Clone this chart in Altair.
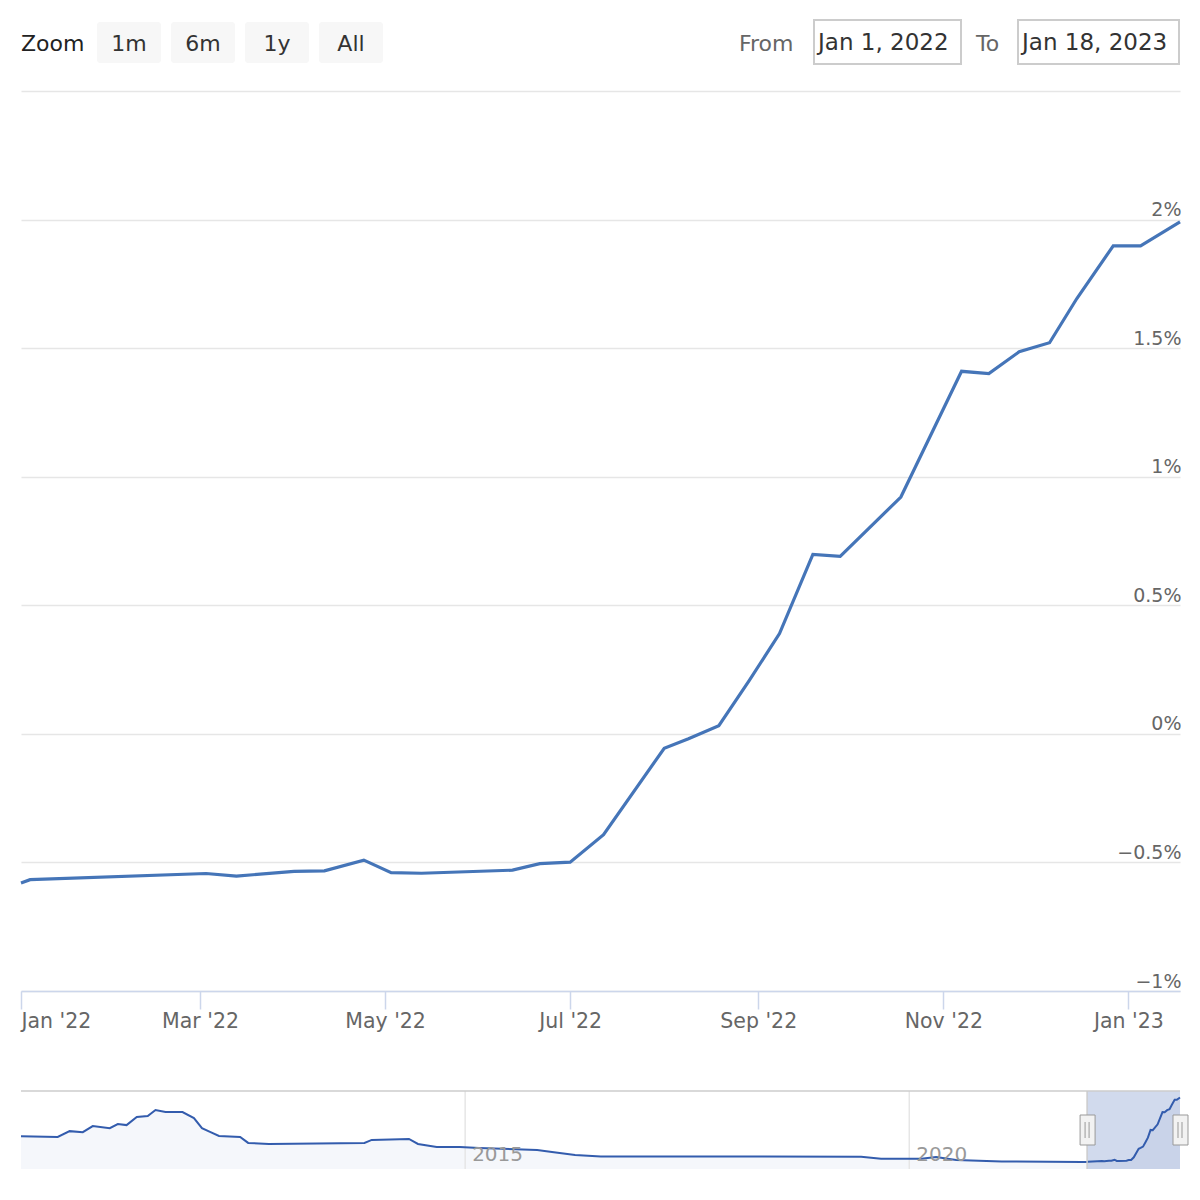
import altair as alt
import pandas as pd

FONT = "DejaVu Sans"

# ---- main (zoomed) series ----
dates = ["2022-01-01", "2022-01-04", "2022-03-03", "2022-03-13", "2022-04-01",
         "2022-04-11", "2022-04-24", "2022-05-03", "2022-05-13", "2022-06-12",
         "2022-06-21", "2022-07-01", "2022-07-12", "2022-08-01", "2022-08-09",
         "2022-08-19", "2022-08-29", "2022-09-08", "2022-09-19", "2022-09-28",
         "2022-10-18", "2022-11-07", "2022-11-16", "2022-11-26", "2022-12-06",
         "2022-12-15", "2022-12-27", "2023-01-05", "2023-01-18"]
values = [-0.580, -0.567, -0.543, -0.553, -0.535,
          -0.533, -0.491, -0.540, -0.542, -0.530,
          -0.505, -0.499, -0.392, -0.056, -0.019,
          0.032, 0.207, 0.390, 0.698, 0.690,
          0.921, 1.410, 1.401, 1.486, 1.521,
          1.693, 1.898, 1.898, 1.991]

# ---- navigator history (before the zoomed range) ----
hist_dates = ["2010-01-01", "2010-06-01", "2010-07-20", "2010-09-12", "2010-10-23",
              "2011-01-01", "2011-02-03", "2011-03-11", "2011-04-22", "2011-06-06",
              "2011-07-08", "2011-08-18", "2011-10-27", "2011-12-13", "2012-01-15",
              "2012-02-17", "2012-03-25", "2012-06-20", "2012-07-23", "2012-10-16",
              "2013-11-13", "2013-12-13", "2014-05-15", "2014-06-21", "2014-09-06",
              "2014-12-10", "2015-02-27", "2015-10-24", "2015-12-24", "2016-03-28",
              "2016-07-12", "2019-06-17", "2019-09-07", "2020-02-20", "2020-04-20",
              "2020-07-12", "2021-01-15", "2021-12-10"]
hist_values = [0.45, 0.42, 0.65, 0.61, 0.85,
               0.77, 0.93, 0.89, 1.21, 1.25,
               1.49, 1.41, 1.41, 1.17, 0.77,
               0.62, 0.46, 0.42, 0.18, 0.14,
               0.18, 0.30, 0.34, 0.14, 0.02,
               0.02, -0.02, -0.10, -0.18, -0.30,
               -0.36, -0.37, -0.45, -0.45, -0.38,
               -0.50, -0.56, -0.58]

y_ticks = [-1, -0.5, 0, 0.5, 1, 1.5, 2, 2.5]
x_tick_dates = ["2022-01-01", "2022-03-01", "2022-05-01", "2022-07-01",
                "2022-09-01", "2022-11-01", "2023-01-01"]
range_start, range_end = "2022-01-01", "2023-01-18"
nav_start = "2010-01-01"
nav_years = ["2015-01-01", "2020-01-01"]
nav_year_labels = ["2015", "2020"]

zoom_label = "Zoom"
buttons = ["1m", "6m", "1y", "All"]
from_label, to_label = "From", "To"
from_value, to_value = "Jan 1, 2022", "Jan 18, 2023"

main_df = pd.DataFrame({"date": dates, "value": values})
nav_df = pd.DataFrame({"date": hist_dates + dates, "value": hist_values + values})

W, H, NAV_H = 1159, 900, 78
LINE = "#4575b8"


def dt(s):
    y, m, d = map(int, s.split("-"))
    return alt.DateTime(year=y, month=m, date=d, utc=True)


main_x_scale = alt.Scale(type="utc", domain=[dt(range_start), dt(range_end)])

line = alt.Chart(main_df).mark_line(color=LINE, strokeWidth=3.2).encode(
    x=alt.X("date:T", scale=main_x_scale, title=None,
            axis=alt.Axis(values=[dt(s) for s in x_tick_dates], format="%b '%y",
                          grid=False, domainColor="#ccd6eb", domainWidth=1.5,
                          tickColor="#ccd6eb", tickWidth=1.5, tickSize=18,
                          labelFontSize=20.5, labelColor="#666666", labelFont=FONT,
                          labelBaseline="alphabetic", labelPadding=18,
                          labelFlush=True, labelOverlap=False)),
    y=alt.Y("value:Q", title=None,
            scale=alt.Scale(domain=[-1, 2.5], nice=False, zero=False),
            axis=alt.Axis(orient="right", values=y_ticks, grid=True,
                          gridColor="#e6e6e6", gridWidth=1.5, domain=False, ticks=False,
                          labelAlign="right", labelPadding=1, labelOffset=-4,
                          labelBaseline="alphabetic", labelFontSize=19,
                          labelColor="#666666", labelFont=FONT,
                          labelExpr="datum.value > 2.4 ? '' : (datum.value < 0 ? '\u2212' : '') + abs(datum.value) + '%'")),
)

# ---- toolbar (range selector UI) ----
tb = []
BASE = -40
tb.append(alt.Chart(pd.DataFrame({"t": [zoom_label]})).mark_text(
    align="left", baseline="alphabetic", fontSize=22, color="#222222", font=FONT
).encode(x=alt.value(0), y=alt.value(BASE), text="t:N"))
for i, b in enumerate(buttons):
    x0 = 76 + i * 74
    tb.append(alt.Chart(pd.DataFrame({"t": [b]})).mark_rect(
        color="#f7f7f7", cornerRadius=3
    ).encode(x=alt.value(x0), x2=alt.value(x0 + 64), y=alt.value(-69), y2=alt.value(-28)))
    tb.append(alt.Chart(pd.DataFrame({"t": [b]})).mark_text(
        align="center", baseline="alphabetic", fontSize=22, color="#333333", font=FONT
    ).encode(x=alt.value(x0 + 32), y=alt.value(BASE), text="t:N"))
for lbl, lx, bx0, bx1, val in [(from_label, 718, 793, 940, from_value),
                               (to_label, 955, 997, 1158, to_value)]:
    tb.append(alt.Chart(pd.DataFrame({"t": [lbl]})).mark_text(
        align="left", baseline="alphabetic", fontSize=22, color="#666666", font=FONT
    ).encode(x=alt.value(lx), y=alt.value(BASE), text="t:N"))
    tb.append(alt.Chart(pd.DataFrame({"t": [val]})).mark_rect(
        fill="#ffffff", stroke="#cccccc", strokeWidth=2
    ).encode(x=alt.value(bx0), x2=alt.value(bx1), y=alt.value(-71), y2=alt.value(-27)))
    tb.append(alt.Chart(pd.DataFrame({"t": [val]})).mark_text(
        align="left", baseline="alphabetic", fontSize=23, color="#333333", font=FONT
    ).encode(x=alt.value(bx0 + 4), y=alt.value(BASE - 1), text="t:N"))

main = alt.layer(line, *tb).properties(width=W, height=H)

# ---- navigator ----
nav_x_scale = alt.Scale(type="utc", domain=[dt(nav_start), dt(range_end)])
nav_y_scale = alt.Scale(domain=[-0.86, 2.25], nice=False, zero=False)

sel_df = pd.DataFrame({"date": [range_start], "date2": [range_end]})
mask = alt.Chart(sel_df).mark_rect(color="#6685c2", opacity=0.3).encode(
    x=alt.X("date:T", scale=nav_x_scale, axis=None), x2="date2:T",
    y=alt.value(0), y2=alt.value(NAV_H))
nav_area = alt.Chart(nav_df).mark_area(color="#335cad", fillOpacity=0.05).encode(
    x=alt.X("date:T", scale=nav_x_scale, axis=None),
    y=alt.Y("value:Q", scale=nav_y_scale, axis=None, stack=None), y2=alt.value(NAV_H))
grid_df = pd.DataFrame({"date": nav_years, "label": nav_year_labels})
nav_grid = alt.Chart(grid_df).mark_rule(color="#e6e6e6", strokeWidth=1.5).encode(
    x=alt.X("date:T", scale=nav_x_scale, axis=None), y=alt.value(0), y2=alt.value(NAV_H))
nav_line = alt.Chart(nav_df).mark_line(color="#335cad", strokeWidth=2).encode(
    x=alt.X("date:T", scale=nav_x_scale, axis=None),
    y=alt.Y("value:Q", scale=nav_y_scale, axis=None))
nav_labels = alt.Chart(grid_df).mark_text(
    align="left", baseline="alphabetic", dx=7, fontSize=20, color="#999999", font=FONT
).encode(x=alt.X("date:T", scale=nav_x_scale, axis=None), y=alt.value(70), text="label:N")
outline_top = alt.Chart(sel_df).mark_rule(color="#cccccc", strokeWidth=1.5).encode(
    x=alt.value(0), x2=alt.value(W), y=alt.value(0))
outline_sel = alt.Chart(sel_df).mark_rule(color="#cccccc", strokeWidth=1.5).encode(
    x=alt.X("date:T", scale=nav_x_scale, axis=None), y=alt.value(0), y2=alt.value(NAV_H))
handle_df = pd.DataFrame({"date": [range_start, range_end]})
handles = alt.Chart(handle_df).mark_rect(
    fill="#f2f2f2", stroke="#999999", strokeWidth=1, xOffset=-7, x2Offset=8
).encode(x=alt.X("date:T", scale=nav_x_scale, axis=None), x2="date:T",
         y=alt.value(24), y2=alt.value(54))
grip1 = alt.Chart(handle_df).mark_rule(color="#999999", strokeWidth=1, xOffset=-2).encode(
    x=alt.X("date:T", scale=nav_x_scale, axis=None), y=alt.value(31), y2=alt.value(47))
grip2 = alt.Chart(handle_df).mark_rule(color="#999999", strokeWidth=1, xOffset=2).encode(
    x=alt.X("date:T", scale=nav_x_scale, axis=None), y=alt.value(31), y2=alt.value(47))

nav = alt.layer(mask, nav_area, nav_grid, nav_line, nav_labels, outline_top,
                outline_sel, handles, grip1, grip2).properties(width=W, height=NAV_H)

chart = alt.vconcat(main, nav, spacing=58).properties(
    padding={"left": 6, "top": 11, "right": 0, "bottom": 0}
).configure(font=FONT).configure_view(strokeWidth=0)

chart.save("out.html", embed_options={"renderer": "svg", "actions": False})
